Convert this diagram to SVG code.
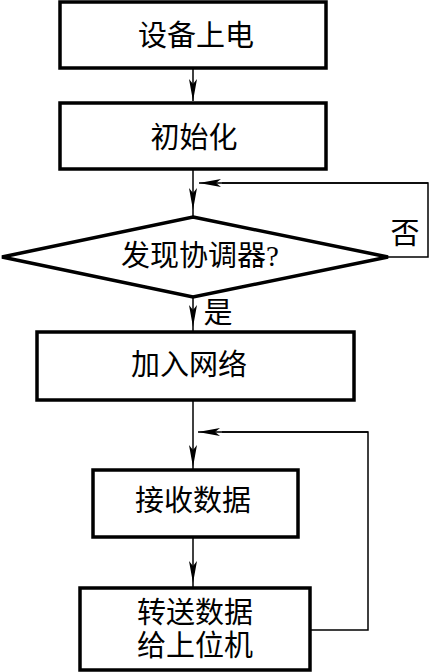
<svg xmlns="http://www.w3.org/2000/svg" width="429" height="672" viewBox="0 0 429 672">
<defs>
<style>
.box{fill:#fff;stroke:#000;stroke-width:3.5}
.ln{fill:none;stroke:#000;stroke-width:1.5}
.t{font-family:"Liberation Serif","Noto Sans CJK SC",serif;font-size:29px;fill:#000;text-anchor:middle;dominant-baseline:central}
</style>
<marker id="ah" viewBox="0 0 22 8" refX="22" refY="4" markerWidth="22" markerHeight="8" markerUnits="userSpaceOnUse" orient="auto">
<path d="M0,0 L5,4 L0,8 L22,4 Z" fill="#000"/>
</marker>
</defs>
<rect width="429" height="672" fill="#fff"/>
<g id="connectors">
<line class="ln" x1="193" y1="68" x2="193" y2="101" marker-end="url(#ah)"/>
<line class="ln" x1="193" y1="169" x2="193" y2="210" marker-end="url(#ah)"/>
<line class="ln" x1="193" y1="210" x2="193" y2="217"/>
<polyline class="ln" points="388,257 428,257 428,183 222,183"/>
<line class="ln" x1="428" y1="183" x2="199" y2="183" marker-end="url(#ah)"/>
<line class="ln" x1="193" y1="297" x2="193" y2="327" marker-end="url(#ah)"/>
<line class="ln" x1="193" y1="327" x2="193" y2="332"/>
<line class="ln" x1="193" y1="400" x2="193" y2="467" marker-end="url(#ah)"/>
<line class="ln" x1="193" y1="467" x2="193" y2="470"/>
<polyline class="ln" points="310,630 368,630 368,432 222,432"/>
<line class="ln" x1="368" y1="432" x2="198" y2="432" marker-end="url(#ah)"/>
<line class="ln" x1="193" y1="537" x2="193" y2="583" marker-end="url(#ah)"/>
<line class="ln" x1="193" y1="583" x2="193" y2="588"/>
<text class="t" x="405" y="234">否</text>
<text class="t" x="218" y="313">是</text>
</g>
<g id="n1">
<rect class="box" x="60" y="2" width="266" height="66"/>
<text class="t" x="196" y="36">设备上电</text>
</g>
<g id="n2">
<rect class="box" x="60" y="103" width="266" height="66"/>
<text class="t" x="194" y="138">初始化</text>
</g>
<g id="n3">
<polygon class="box" points="193,217 388,257 193,297 2,257"/>
<text class="t" x="200" y="256">发现协调器?</text>
</g>
<g id="n4">
<rect class="box" x="37" y="332" width="317" height="68"/>
<text class="t" x="189" y="365">加入网络</text>
</g>
<g id="n5">
<rect class="box" x="93" y="470" width="205" height="67"/>
<text class="t" x="193" y="501">接收数据</text>
</g>
<g id="n6">
<rect class="box" x="80" y="588" width="230" height="82"/>
<text class="t" x="195" y="613">转送数据</text>
<text class="t" x="195" y="646">给上位机</text>
</g>
</svg>
